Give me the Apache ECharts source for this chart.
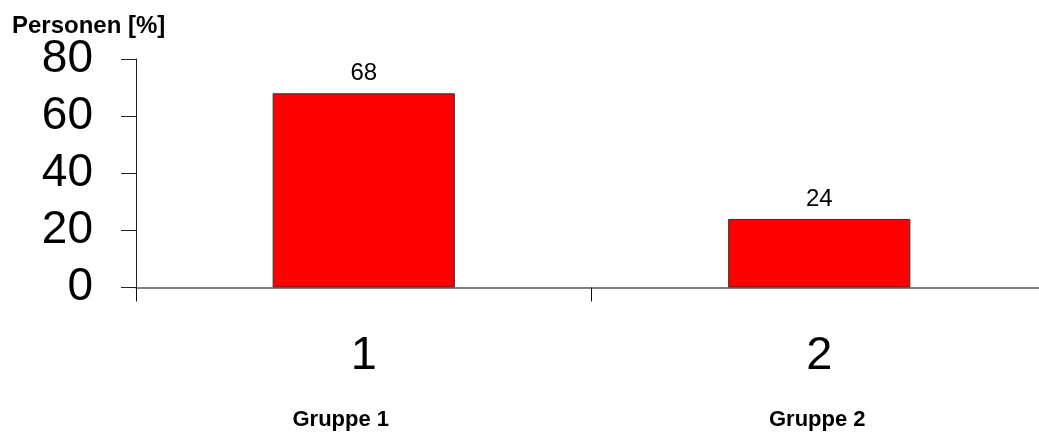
<!DOCTYPE html>
<html>
<head>
<meta charset="utf-8">
<script src="https://cdn.jsdelivr.net/npm/echarts@6/dist/echarts.min.js"></script>
<style>
  html, body { margin: 0; padding: 0; background: #fff; }
  #chart { width: 1039px; height: 440px; }
</style>
</head>
<body>
<div id="chart"></div>
<script>
// Share of persons per group, in percent
const categories = ['1', '2'];
const groupNames = ['Gruppe 1', 'Gruppe 2'];
const values = [68, 24];
const yTicks = { min: 0, max: 80, interval: 20 };

const FONT = '"Liberation Sans", Arial, sans-serif';

const chart = echarts.init(document.getElementById('chart'), null, { renderer: 'canvas' });

chart.setOption({
  animation: false,
  backgroundColor: '#ffffff',
  title: {
    text: 'Personen [%]',
    left: 12,
    top: 14,
    padding: 0,
    textStyle: { fontFamily: FONT, fontSize: 24, fontWeight: 'bold', color: '#000' }
  },
  grid: {
    left: 136, top: 59, width: 911, bottom: 152.5,
    containLabel: false,
    outerBoundsMode: 'none'
  },
  xAxis: [
    {
      type: 'category',
      data: categories,
      position: 'bottom',
      axisLine: { lineStyle: { color: '#555', width: 1.5 } },
      axisTick: { show: true, alignWithLabel: false, length: 14, lineStyle: { color: '#111', width: 1 } },
      axisLabel: { fontFamily: FONT, fontSize: 47, color: '#000', margin: 45 }
    },
    {
      type: 'category',
      data: groupNames,
      position: 'bottom',
      gridIndex: 0,
      axisLine: { show: false },
      axisTick: { show: false },
      axisLabel: {
        fontFamily: FONT, fontSize: 22, fontWeight: 'bold', color: '#000', margin: 121,
        formatter: (v, i) => '{g' + i + '|' + v + '}',
        rich: {
          g0: { fontFamily: FONT, fontSize: 22, fontWeight: 'bold', color: '#000', padding: [0, 46, 0, 0] },
          g1: { fontFamily: FONT, fontSize: 22, fontWeight: 'bold', color: '#000', padding: [0, 4, 0, 0] }
        }
      }
    }
  ],
  yAxis: {
    type: 'value',
    min: yTicks.min,
    max: yTicks.max,
    interval: yTicks.interval,
    splitLine: { show: false },
    axisLine: { show: true, lineStyle: { color: '#222', width: 1 } },
    axisTick: { show: true, length: 15, lineStyle: { color: '#222', width: 1 } },
    axisLabel: { fontFamily: FONT, fontSize: 46, color: '#000', margin: 43 }
  },
  series: [{
    type: 'bar',
    data: values,
    barWidth: '40%',
    itemStyle: { color: '#ff0000', borderColor: '#333', borderWidth: 1 },
    label: {
      show: true,
      position: 'top',
      distance: 8,
      fontFamily: FONT,
      fontSize: 24,
      color: '#000'
    }
  }]
});
</script>
</body>
</html>
